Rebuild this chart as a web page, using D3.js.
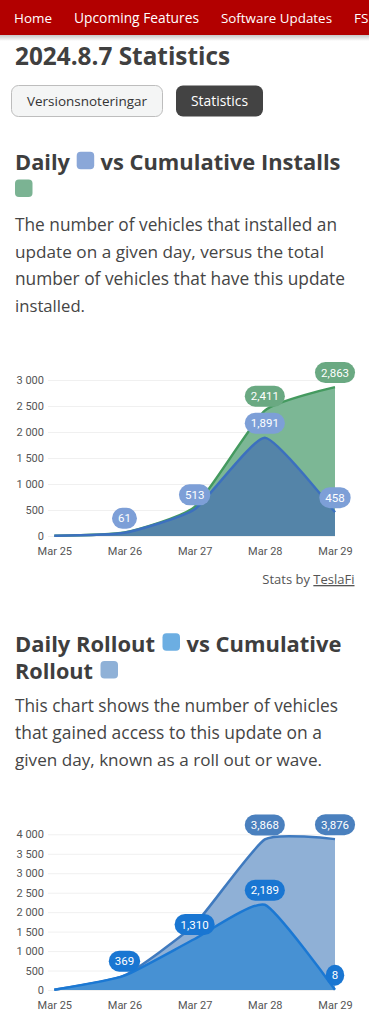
<!DOCTYPE html>
<html>
<head>
<meta charset="utf-8">
<script src="https://cdn.jsdelivr.net/npm/d3@7"></script>
<style>
  html, body { margin: 0; padding: 0; background: #fff; overflow: hidden; }
  svg { display: block; }
</style>
</head>
<body>
<div id="page"></div>
<script>
// ---------------- data ----------------
const dates = ["Mar 25", "Mar 26", "Mar 27", "Mar 28", "Mar 29"];

const installsDaily      = [5, 61, 513, 1891, 458];
const installsCumulative = [5, 66, 560, 2411, 2863];
const installsDailyShow      = [false, true, true, true, true];
const installsCumulativeShow = [false, false, false, true, true];
const installsYTicks = [0, 500, 1000, 1500, 2000, 2500, 3000];

const rolloutDaily      = [5, 369, 1310, 2189, 8];
const rolloutCumulative = [5, 374, 1684, 3868, 3876];
const rolloutDailyShow      = [false, true, true, true, true];
const rolloutCumulativeShow = [false, false, false, true, true];
const rolloutYTicks = [0, 500, 1000, 1500, 2000, 2500, 3000, 3500, 4000];

const navItems = ["Home", "Upcoming Features", "Software Updates", "FSD"];
const title = "2024.8.7 Statistics";
const buttons = ["Versionsnoteringar", "Statistics"];
const desc1 = ["The number of vehicles that installed an",
               "update on a given day, versus the total",
               "number of vehicles that have this update",
               "installed."];
const desc2 = ["This chart shows the number of vehicles",
               "that gained access to this update on a",
               "given day, known as a roll out or wave."];

// ---------------- page ----------------
const W = 369, H = 1024;
const svg = d3.select("#page").append("svg").attr("width", W).attr("height", H);
const SANS = "'Open Sans', 'Noto Sans', sans-serif";
const AX = "Roboto, 'Liberation Sans', sans-serif";

const defs = svg.append("defs");
const sh = defs.append("linearGradient").attr("id", "navshadow").attr("x1", 0).attr("x2", 0).attr("y1", 0).attr("y2", 1);
sh.append("stop").attr("offset", 0).attr("stop-color", "#000").attr("stop-opacity", 0.22);
sh.append("stop").attr("offset", 1).attr("stop-color", "#000").attr("stop-opacity", 0);

// text fitter: scale a little, then spacing for the rest
function fitText(sel, target) {
  const node = sel.node();
  const w = node.getComputedTextLength();
  const fs = parseFloat(sel.attr("font-size"));
  const r = Math.max(0.9, Math.min(1.08, target / w));
  sel.attr("font-size", fs * r);
  sel.attr("textLength", target).attr("lengthAdjust", "spacing");
  return sel;
}

// navbar
svg.append("rect").attr("x", 0).attr("y", 35).attr("width", W).attr("height", 6).attr("fill", "url(#navshadow)");
svg.append("rect").attr("x", 0).attr("y", 0).attr("width", W).attr("height", 35).attr("fill", "#b20000");
const navX = [14, 74, 221, 354];
const navW = [38, 125, 111, 20];
navItems.forEach((t, i) => {
  const s = svg.append("text").attr("x", navX[i]).attr("y", 22.5)
    .attr("font-family", SANS).attr("font-size", 13.5).attr("fill", "#fff").text(t);
  if (i < 3) fitText(s, navW[i]);
});

// title
fitText(svg.append("text").attr("x", 15).attr("y", 65).attr("font-family", SANS)
  .attr("font-weight", 700).attr("font-size", 24).attr("fill", "#404040").text(title), 215);

// buttons
svg.append("rect").attr("x", 11.5).attr("y", 85.5).attr("width", 151).attr("height", 31).attr("rx", 7)
  .attr("fill", "#f4f5f5").attr("stroke", "#bdbdbd");
fitText(svg.append("text").attr("x", 27).attr("y", 105.5).attr("font-family", SANS).attr("font-size", 13.5)
  .attr("fill", "#333").text(buttons[0]), 120);
svg.append("rect").attr("x", 176).attr("y", 85.5).attr("width", 87).attr("height", 31).attr("rx", 7)
  .attr("fill", "#434343");
fitText(svg.append("text").attr("x", 191).attr("y", 105.5).attr("font-family", SANS).attr("font-size", 13.5)
  .attr("fill", "#fff").text(buttons[1]), 57);

function heading(x, y, t, w) {
  return fitText(svg.append("text").attr("x", x).attr("y", y).attr("font-family", SANS)
    .attr("font-weight", 700).attr("font-size", 22).attr("fill", "#3e3e3e").text(t), w);
}
function swatch(x, y, c) {
  svg.append("rect").attr("x", x).attr("y", y).attr("width", 17.5).attr("height", 17.5).attr("rx", 4).attr("fill", c);
}
function para(lines, y0, widths) {
  lines.forEach((t, i) => {
    fitText(svg.append("text").attr("x", 15).attr("y", y0 + i * 27).attr("font-family", SANS)
      .attr("font-size", 16.5).attr("fill", "#454545").text(t), widths[i]);
  });
}

// section 1 heading
heading(15, 170, "Daily", 55);
swatch(76.7, 151.8, "#8aa7d8");
heading(100.5, 170, "vs Cumulative Installs", 240);
swatch(15, 179.5, "#7bb393");
para(desc1, 231, [322, 309, 330, 70]);

// section 2 heading
heading(15, 651.5, "Daily Rollout", 140);
swatch(162.5, 633.2, "#6caee2");
heading(186.5, 651.5, "vs Cumulative", 155);
heading(15, 679, "Rollout", 78);
swatch(100.5, 661, "#8fb1d7");
para(desc2, 711.5, [323, 307, 307]);

// stats by
const sb = svg.append("text").attr("x", 354.5).attr("y", 584).attr("text-anchor", "end")
  .attr("font-family", SANS).attr("font-size", 13).attr("fill", "#555");
sb.append("tspan").text("Stats by ");
sb.append("tspan").attr("text-decoration", "underline").text("TeslaFi");

// ---------------- charts ----------------
const fmt = d3.formatLocale({ decimal: ".", thousands: "\u00a0", grouping: [3], currency: ["", ""] }).format(",d");
const fmtLabel = d3.format(",d");
const x = d3.scalePoint().domain(dates).range([54.3, 335]);

function chart(cfg) {
  const y = d3.scaleLinear().domain(cfg.domain).range(cfg.range);
  const g = svg.append("g");

  // grid
  const grid = g.append("g").attr("transform", "translate(335,0)")
    .call(d3.axisLeft(y).tickValues(cfg.ticks).tickSize(335 - 48).tickFormat(""));
  grid.select(".domain").remove();
  grid.selectAll("line").attr("stroke", "#f0f0f0");

  // y labels
  const ya = g.append("g").attr("transform", "translate(48,0)")
    .call(d3.axisLeft(y).tickValues(cfg.ticks).tickSize(0).tickPadding(4).tickFormat(fmt));
  ya.select(".domain").remove();
  ya.selectAll("text").attr("font-family", AX).attr("font-size", 11).attr("fill", "#555");

  // x labels
  const xa = g.append("g").attr("transform", `translate(0,${cfg.range[0]})`)
    .call(d3.axisBottom(x).tickSize(0).tickPadding(11.5));
  xa.select(".domain").remove();
  xa.selectAll("text").attr("font-family", AX).attr("font-size", 11).attr("fill", "#555");

  const curve = d3.curveCardinal.tension(0.5);
  const area = d3.area().x((d, i) => x(dates[i])).y0(y(0)).y1(d => y(d)).curve(curve);
  const line = d3.line().x((d, i) => x(dates[i])).y(d => y(d)).curve(curve);

  cfg.series.forEach(s => {
    g.append("path").datum(s.values).attr("d", area).attr("fill", s.fill);
    g.append("path").datum(s.values).attr("d", line).attr("fill", "none")
      .attr("stroke", s.stroke).attr("stroke-width", 2.5).attr("stroke-linejoin", "round");
  });

  cfg.series.forEach(s => {
    s.values.forEach((v, i) => {
      if (!s.show[i]) return;
      const cx = x(dates[i]), cy = y(v) - 14.5;
      const lg = g.append("g");
      const r = lg.append("rect").attr("fill", s.label);
      const t = lg.append("text").attr("x", cx).attr("y", cy).attr("dy", "0.36em").attr("text-anchor", "middle")
        .attr("font-family", AX).attr("font-size", 11.5).attr("fill", "#fff").text(fmtLabel(v));
      const tw = t.node().getComputedTextLength();
      const pw = tw + 12, ph = 21;
      r.attr("x", cx - pw / 2).attr("y", cy - ph / 2).attr("width", pw).attr("height", ph).attr("rx", ph / 2);
    });
  });
}

chart({
  domain: [0, 3000], range: [536, 380], ticks: installsYTicks,
  series: [
    { values: installsCumulative, show: installsCumulativeShow, fill: "#7cb795", stroke: "#449a5f", label: "#6aa982" },
    { values: installsDaily, show: installsDailyShow, fill: "#5484a8", stroke: "#3c70bf", label: "#7d9fd7" }
  ]
});

chart({
  domain: [0, 4000], range: [990, 834.3], ticks: rolloutYTicks,
  series: [
    { values: rolloutCumulative, show: rolloutCumulativeShow, fill: "#8fb0d6", stroke: "#3f7abf", label: "#4a80be" },
    { values: rolloutDaily, show: rolloutDailyShow, fill: "#4791d3", stroke: "#1b78d3", label: "#1976d2" }
  ]
});
</script>
</body>
</html>
